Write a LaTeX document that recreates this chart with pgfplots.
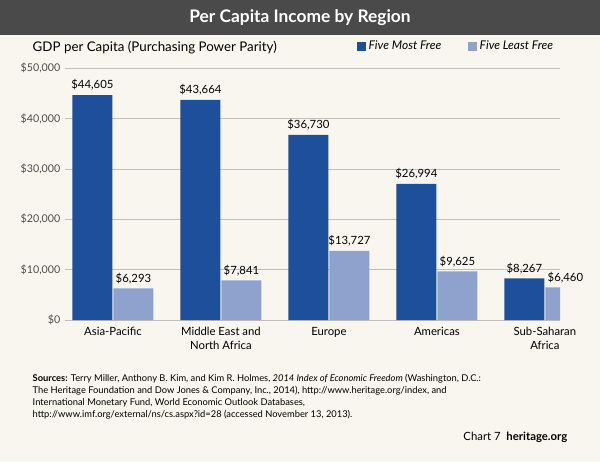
\documentclass[border=0pt]{standalone}
\usepackage{pgfplots}
\pgfplotsset{compat=1.18}
\usepackage{fontspec}
\setmainfont{Lato}
\definecolor{bg}{HTML}{F8F6EF}
\definecolor{dk}{HTML}{1D4F9A}
\definecolor{lt}{HTML}{8FA2CE}
\definecolor{tbar}{HTML}{4A4A4A}
\begin{document}
\begin{tikzpicture}
\fill[bg] (0pt,0pt) rectangle (450pt,346.5pt);
\fill[tbar] (0pt,320.25pt) rectangle (450pt,346.5pt);
\node[white,font=\bfseries\fontsize{13}{15}\selectfont] at (225pt,333.4pt) {Per Capita Income by Region};
\node[anchor=west,font=\fontsize{10}{12}\selectfont] at (21pt,310.5pt) {GDP per Capita (Purchasing Power Parity)};
\begin{axis}[at={(48.75pt,106.5pt)},anchor=south west,scale only axis,width=371.25pt,height=189pt,
 xmin=-0.444,xmax=4.14,ymin=0,ymax=50000,scaled ticks=false,
 axis line style={draw=none},
 ytick={0,10000,...,50000},yticklabels={\$0,\$10{,}000,\$20{,}000,\$30{,}000,\$40{,}000,\$50{,}000},
 yticklabel style={font=\fontsize{8}{9}\selectfont,text=black!70},
 xtick=data,xticklabels={Asia-Pacific,Middle East and\\North Africa,Europe,Americas,Sub-Saharan\\Africa},
 xticklabel style={font=\fontsize{8.5}{10}\selectfont,align=center,anchor=north,yshift=-2pt},
 major tick length=0pt,ymajorgrids,grid style={black!25},
 ybar,bar width=0.37,
 nodes near coords={\$\pgfmathprintnumber[fixed,1000 sep={,},assume math mode=true]{\pgfplotspointmeta}},
 nodes near coords style={font=\fontsize{8.5}{10}\selectfont,text=black},
 point meta=explicit,
 legend style={at={(1,1)},anchor=south east,yshift=8pt,draw=none,fill=none,legend columns=2,font=\itshape\fontsize{9}{10}\selectfont,/tikz/every even column/.append style={column sep=18pt}},
 legend image code/.code={\fill[#1] (0cm,-0.12cm) rectangle (0.24cm,0.12cm);}]
\addplot[fill=dk,draw=none,bar shift=-0.19] coordinates {(0,44605)[44605] (1,43664)[43664] (2,36730)[36730] (3,26994)[26994] (4,8267)[8267]};
\addplot[fill=lt,draw=none,bar shift=0.19] coordinates {(0,6293)[6293] (1,7841)[7841] (2,13727)[13727] (3,9625)[9625] (4,6460)[6460]};
\legend{Five Most Free,Five Least Free}
\end{axis}
\node[anchor=north west,align=left,font=\fontsize{7}{9}\selectfont] at (21pt,69pt) {\textbf{Sources:} Terry Miller, Anthony B. Kim, and Kim R. Holmes, \textit{2014 Index of Economic Freedom} (Washington, D.C.:\\The Heritage Foundation and Dow Jones \& Company, Inc., 2014), http://www.heritage.org/index, and\\International Monetary Fund, World Economic Outlook Databases,\\http://www.imf.org/external/ns/cs.aspx?id=28 (accessed November 13, 2013).};
\node[anchor=east,font=\fontsize{8.5}{10}\selectfont] at (429pt,18.75pt) {Chart 7 \ \textbf{heritage.org}};
\end{tikzpicture}
\end{document}
